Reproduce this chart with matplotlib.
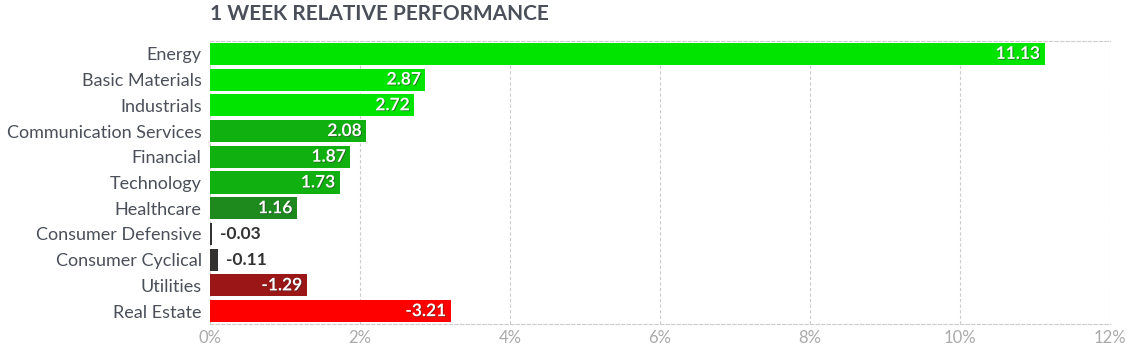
import matplotlib
matplotlib.use('Agg')
import matplotlib.pyplot as plt
import matplotlib.patheffects as pe
from matplotlib.ticker import FuncFormatter

sectors = ['Energy', 'Basic Materials', 'Industrials', 'Communication Services', 'Financial',
           'Technology', 'Healthcare', 'Consumer Defensive', 'Consumer Cyclical', 'Utilities', 'Real Estate']
perf = [11.13, 2.87, 2.72, 2.08, 1.87, 1.73, 1.16, -0.03, -0.11, -1.29, -3.21]
colors = ['#00e400', '#00e400', '#00e400', '#0fb00f', '#0fb00f', '#0fb00f', '#1e8a1e',
          '#333333', '#333030', '#9b1616', '#ff0000']

plt.rcParams['font.family'] = ['Lato', 'DejaVu Sans']

fig = plt.figure(figsize=(11.33, 3.52), dpi=100)
ax = fig.add_axes([210 / 1133, 1 - 324 / 352, 900 / 1133, 283 / 352])

y = list(range(len(sectors)))
vals = [abs(v) for v in perf]
ax.barh(y, vals, height=0.86, color=colors, zorder=3)

for i, v in enumerate(perf):
    txt = '%.2f' % v
    if abs(v) > 0.6:
        ax.text(abs(v) - 0.06, i, txt, ha='right', va='center', color='white', fontsize=12.5,
                fontweight='bold', zorder=4,
                path_effects=[pe.withSimplePatchShadow(offset=(0.6, -0.6), shadow_rgbFace='#333333', alpha=0.6)])
    else:
        ax.text(abs(v) + 0.1, i, txt, ha='left', va='center', color='#333333', fontsize=12.5,
                fontweight='bold', zorder=4)

ax.set_ylim(len(sectors) - 0.5, -0.5)
ax.set_xlim(0, 12)
ax.set_yticks(y)
ax.set_yticklabels(sectors, fontsize=13, color='#4a4f5a')
ax.set_xticks(range(0, 13, 2))
ax.xaxis.set_major_formatter(FuncFormatter(lambda x, p: '%d%%' % x))
ax.tick_params(axis='x', colors='#aaaaaa', labelsize=12, length=0, pad=4)
ax.tick_params(axis='y', length=0, pad=6)
ax.grid(axis='x', color='#cccccc', linestyle=(0, (3, 2)), linewidth=0.8, zorder=0)
for s in ['left', 'right']:
    ax.spines[s].set_visible(False)
for s in ['top', 'bottom']:
    ax.spines[s].set_color('#cccccc')
    ax.spines[s].set_linestyle((0, (3, 2)))
    ax.spines[s].set_linewidth(0.8)

fig.text(210 / 1133, 1 - 14 / 352, '1 WEEK RELATIVE PERFORMANCE', fontsize=15, fontweight='bold',
         color='#4a4f5a', ha='left', va='center')

fig.savefig('out.png', dpi=100)
